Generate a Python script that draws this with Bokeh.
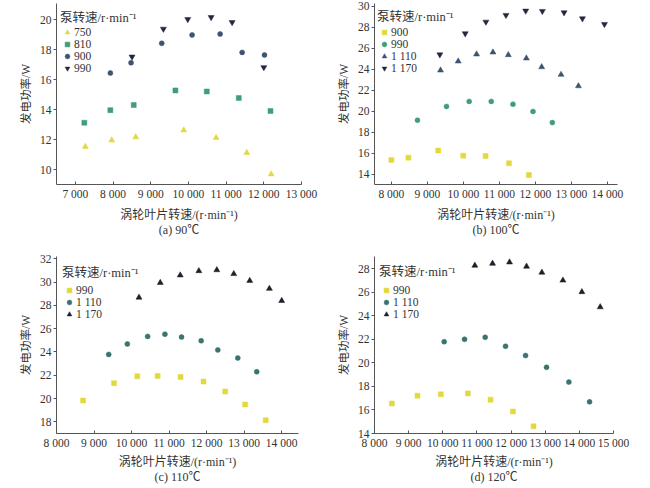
from bokeh.plotting import figure
from bokeh.models import Range1d, FixedTicker, Legend, LegendItem
from bokeh.layouts import column, row
from bokeh.embed import file_html
from bokeh.resources import INLINE

# ---------------- data ----------------
# (a) 90 C
a_750_x = [7265, 7965, 8602, 9876, 10735, 11549, 12195]
a_750_y = [11.52, 11.96, 12.17, 12.63, 12.12, 11.12, 9.69]
a_810_x = [7239, 7929, 8549, 9655, 10487, 11336, 12177]
a_810_y = [13.13, 13.97, 14.31, 15.29, 15.22, 14.78, 13.91]
a_900_x = [7929, 8478, 9292, 10097, 10841, 11425, 12018]
a_900_y = [16.45, 17.14, 18.44, 19.00, 19.06, 17.83, 17.66]
a_990_x = [8504, 9336, 9982, 10602, 11159, 12000]
a_990_y = [17.54, 19.40, 20.04, 20.18, 19.84, 16.83]

# (b) 100 C
b_900_x = [8000, 8473, 9300, 9995, 10616, 11265, 11820]
b_900_y = [15.34, 15.56, 16.23, 15.75, 15.72, 15.02, 13.90]
b_990_x = [8724, 9530, 10160, 10773, 11376, 11933, 12470]
b_990_y = [19.13, 20.44, 20.92, 20.92, 20.66, 19.96, 18.90]
b_1110_x = [9364, 9855, 10365, 10820, 11247, 11748, 12174, 12712, 13195]
b_1110_y = [23.88, 24.74, 25.41, 25.60, 25.35, 25.03, 24.20, 23.47, 22.38]
b_1170_x = [9345, 10050, 10625, 11182, 11730, 12193, 12796, 13306, 13918]
b_1170_y = [25.38, 27.39, 28.50, 29.14, 29.55, 29.52, 29.39, 28.82, 28.28]

# (c) 110 C
c_990_x = [8709, 9534, 10154, 10695, 11307, 11918, 12495, 13027, 13576]
c_990_y = [19.83, 21.32, 21.91, 21.94, 21.85, 21.46, 20.61, 19.49, 18.14]
c_1110_x = [9392, 9888, 10429, 10890, 11333, 11856, 12300, 12832, 13337]
c_1110_y = [23.79, 24.69, 25.34, 25.53, 25.28, 24.97, 24.18, 23.48, 22.30]
c_1170_x = [10199, 10766, 11298, 11794, 12273, 12725, 13150, 13674, 14002]
c_1170_y = [28.68, 29.95, 30.59, 30.96, 31.04, 30.71, 30.12, 29.44, 28.40]

# (d) 120 C
d_990_x = [8508, 9260, 9943, 10734, 11398, 12053, 12658]
d_990_y = [16.55, 17.22, 17.33, 17.41, 16.88, 15.87, 14.61]
d_1110_x = [10041, 10637, 11242, 11838, 12424, 13039, 13693, 14299]
d_1110_y = [21.81, 22.01, 22.18, 21.42, 20.63, 19.63, 18.37, 16.69]
d_1170_x = [10939, 11457, 11955, 12453, 12902, 13518, 14074, 14611]
d_1170_y = [28.28, 28.45, 28.56, 28.20, 27.69, 27.02, 26.04, 24.75]

a_xticks = [7000, 8000, 9000, 10000, 11000, 12000, 13000]
b_xticks = [8000, 9000, 10000, 11000, 12000, 13000, 14000]
c_xticks = [8000, 9000, 10000, 11000, 12000, 13000, 14000]
d_xticks = [8000, 9000, 10000, 11000, 12000, 13000, 14000, 15000]
a_yticks = [10, 12, 14, 16, 18, 20]
b_yticks = [14, 16, 18, 20, 22, 24, 26, 28, 30]
c_yticks = [18, 20, 22, 24, 26, 28, 30, 32]
d_yticks = [14, 16, 18, 20, 22, 24, 26, 28]

x_title = "涡轮叶片转速/(r·min⁻¹)"
y_title = "发电功率/W"
legend_title = "泵转速/r·min⁻¹"
captions = ["(a) 90℃", "(b) 100℃", "(c) 110℃", "(d) 120℃"]

YELLOW = "#e2d93c"
GREEN = "#3f9e76"
BLUEGRAY = "#3d5470"
NAVY = "#23263a"
TEAL = "#3a7470"
BLACK = "#1f1f2c"

FONT = "'Liberation Serif', 'Noto Sans CJK SC', serif"
TXT = "#333333"
AX = "#555555"


def fmt(v):
    s = str(int(v))
    if len(s) > 3:
        s = s[:-3] + " " + s[-3:]
    return s


def panel(xr, yr, xt, yt, series, caption, w, h, bl, br, bt, bb,
          xlab_standoff, leg_margin, leg_pad, leg_title_standoff):
    p = figure(width=w, height=h, output_backend="svg", toolbar_location=None,
               x_range=Range1d(*xr), y_range=Range1d(*yr),
               min_border_left=bl, min_border_right=br,
               min_border_top=bt, min_border_bottom=bb)
    p.outline_line_color = None
    p.xgrid.visible = False
    p.ygrid.visible = False
    p.background_fill_color = "white"
    p.border_fill_color = "white"

    p.xaxis.ticker = FixedTicker(ticks=xt)
    p.yaxis.ticker = FixedTicker(ticks=yt)
    p.xaxis.major_label_overrides = {t: fmt(t) for t in xt}
    p.yaxis.major_label_overrides = {t: str(t) for t in yt}
    for ax in (p.xaxis[0], p.yaxis[0]):
        ax.axis_line_color = AX
        ax.major_tick_line_color = AX
        ax.minor_tick_line_color = None
        ax.major_label_text_font = FONT
        ax.major_label_text_font_size = "11.5px"
        ax.major_label_text_color = TXT
        ax.axis_label_text_font = FONT
        ax.axis_label_text_font_style = "normal"
        ax.axis_label_text_color = TXT
    p.xaxis.major_tick_in = 3
    p.xaxis.major_tick_out = 0
    p.yaxis.major_tick_in = 0
    p.yaxis.major_tick_out = 3
    p.xaxis.major_label_standoff = 3
    p.yaxis.major_label_standoff = 2
    # x-axis title plus the panel caption as a second line
    p.xaxis.axis_label = x_title + "\n" + caption
    p.xaxis.axis_label_text_line_height = 1.1
    p.yaxis.axis_label = y_title
    p.xaxis.axis_label_text_font_size = "12px"
    p.yaxis.axis_label_text_font_size = "11.5px"
    p.xaxis.axis_label_standoff = xlab_standoff
    p.yaxis.axis_label_standoff = 5

    items = []
    for (xs, ys, marker, color, size, label) in series:
        r = p.scatter(xs, ys, marker=marker, size=size, fill_color=color,
                      line_color=color, line_width=0.5)
        items.append(LegendItem(label=label, renderers=[r]))
    leg = Legend(items=items, location="top_left", title=legend_title)
    leg.title_text_font = FONT
    leg.title_text_font_size = "12.5px"
    leg.title_text_font_style = "normal"
    leg.title_text_color = TXT
    leg.title_standoff = leg_title_standoff
    leg.label_text_font = FONT
    leg.label_text_font_size = "11.5px"
    leg.label_text_color = TXT
    leg.label_height = 12
    leg.label_standoff = -3
    leg.glyph_width = 14
    leg.glyph_height = 12
    leg.spacing = 0
    leg.padding = leg_pad
    leg.margin = leg_margin
    leg.background_fill_alpha = 0
    leg.border_line_color = None
    p.add_layout(leg)
    return p


pa = panel((6500, 13000), (9, 21.1), a_xticks, a_yticks, [
    (a_750_x, a_750_y, "triangle", YELLOW, 6, "750"),
    (a_810_x, a_810_y, "square", GREEN, 5, "810"),
    (a_900_x, a_900_y, "circle", BLUEGRAY, 5, "900"),
    (a_990_x, a_990_y, "inverted_triangle", NAVY, 6, "990"),
], captions[0], 325, 244, 56, 24, 3, 60, 5, 4, 3, 0)

pb = panel((7530, 14280), (13, 30.25), b_xticks, b_yticks, [
    (b_900_x, b_900_y, "square", YELLOW, 5, "900"),
    (b_990_x, b_990_y, "circle", GREEN, 5, "990"),
    (b_1110_x, b_1110_y, "triangle", BLUEGRAY, 6, "1 110"),
    (b_1170_x, b_1170_y, "inverted_triangle", NAVY, 6, "1 170"),
], captions[1], 323, 244, 49, 31, 3, 60, 5, 3, 4, 1)

pc = panel((8000, 14450), (17, 32.2), c_xticks, c_yticks, [
    (c_990_x, c_990_y, "square", YELLOW, 5, "990"),
    (c_1110_x, c_1110_y, "circle", TEAL, 5, "1 110"),
    (c_1170_x, c_1170_y, "triangle", BLACK, 6, "1 170"),
], captions[2], 325, 242, 56, 27, 10, 51, 3, 6, 3, 3)

pd = panel((8000, 15000), (14, 29.05), d_xticks, d_yticks, [
    (d_990_x, d_990_y, "square", YELLOW, 5, "990"),
    (d_1110_x, d_1110_y, "circle", TEAL, 5, "1 110"),
    (d_1170_x, d_1170_y, "triangle", BLACK, 6, "1 170"),
], captions[3], 323, 242, 49, 35, 12, 51, 3, 5, 3, 4)

lay = column(row(pa, pb), row(pc, pd))
open("out.html", "w").write(file_html(lay, INLINE))
